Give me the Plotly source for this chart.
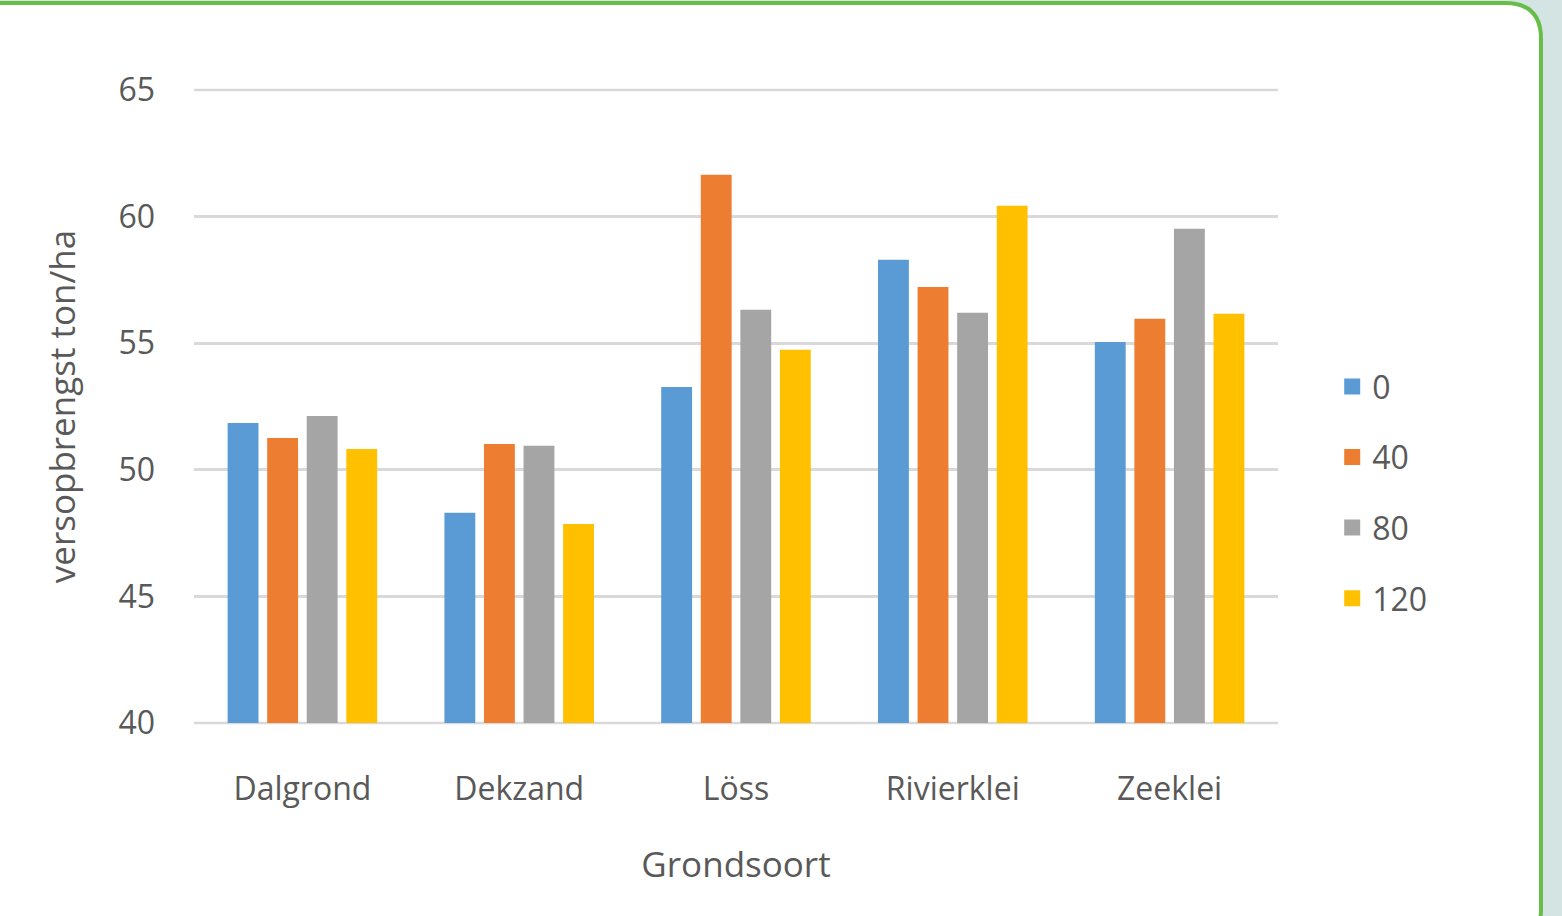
import plotly.graph_objects as go

categories = ["Dalgrond", "Dekzand", "Löss", "Rivierklei", "Zeeklei"]
series_names = ["0", "40", "80", "120"]
vals_0 = [51.85, 48.3, 53.27, 58.3, 55.05]
vals_40 = [51.26, 51.02, 61.65, 57.22, 55.97]
vals_80 = [52.12, 50.95, 56.32, 56.2, 59.52]
vals_120 = [50.82, 47.86, 54.74, 60.43, 56.16]
colors = ["#5b9bd5", "#ed7d31", "#a5a5a5", "#ffc000"]
y_ticks = [40, 45, 50, 55, 60, 65]

FONT = "Open Sans"
TXT = "#595959"

fig = go.Figure()
for name, vals, col in zip(series_names, [vals_0, vals_40, vals_80, vals_120], colors):
    fig.add_trace(go.Bar(x=categories, y=vals, name=name, marker_color=col,
                         marker_line_width=0, showlegend=False))
for name, col in zip(series_names, colors):
    fig.add_trace(go.Scatter(x=[None], y=[None], mode="markers", name=name,
                             legendgroup=name,
                             marker=dict(symbol="square", size=16, color=col)))

L, R, T, B = 194, 1278, 90, 723
W, H = 1562, 916


def px(x):
    return (x - L) / (R - L)


def py(y):
    return (B - y) / (B - T)


# rounded panel path (page background is teal, panel white with green border)
x0, x1, y0, y1, r = -20, 1541, 3, 945, 36
path = (f"M{px(x0)},{py(y0)} L{px(x1 - r)},{py(y0)} "
        f"Q{px(x1)},{py(y0)} {px(x1)},{py(y0 + r)} "
        f"L{px(x1)},{py(y1 - r)} Q{px(x1)},{py(y1)} {px(x1 - r)},{py(y1)} "
        f"L{px(x0)},{py(y1)} Z")

fig.update_layout(
    width=W, height=H,
    margin=dict(l=L, r=W - R, t=T, b=H - B, pad=0),
    paper_bgcolor="#d3e4e2",
    plot_bgcolor="rgba(0,0,0,0)",
    font=dict(family=FONT, size=32, color=TXT),
    barmode="group", bargap=0.27, bargroupgap=0.22,
    shapes=[dict(type="path", xref="paper", yref="paper", path=path,
                 fillcolor="white", line=dict(color="#66bd47", width=4),
                 layer="below")],
    legend=dict(x=1.05, y=0.364, xanchor="left", yanchor="middle",
                font=dict(size=32, color=TXT), tracegroupgap=26,
                bgcolor="rgba(0,0,0,0)", itemwidth=30),
    xaxis=dict(title=dict(text="Grondsoort", standoff=44,
                          font=dict(size=35, color=TXT)),
               showgrid=False, showline=False, zeroline=False,
               ticks="", ticklabelstandoff=44, tickfont=dict(size=32, color=TXT),
               fixedrange=True),
    yaxis=dict(title=dict(text="versopbrengst ton/ha", standoff=32,
                          font=dict(size=35, color=TXT)),
               range=[y_ticks[0], y_ticks[-1]], tickvals=y_ticks, showgrid=True,
               gridcolor="#d9d9d9", gridwidth=2.5, zeroline=False, showline=False,
               ticks="", ticklabelstandoff=38, tickfont=dict(size=32, color=TXT)),
)
# gridlines at the plot edges (bottom 40 and top 65), unclipped
for yp in (0, 1):
    fig.add_shape(type="line", xref="paper", yref="paper", x0=0, x1=1, y0=yp, y1=yp,
                  line=dict(color="#d9d9d9", width=2.5), layer="below")

fig.write_html("out.html", config={"displayModeBar": False},
               post_script="document.body.style.margin='0';")
